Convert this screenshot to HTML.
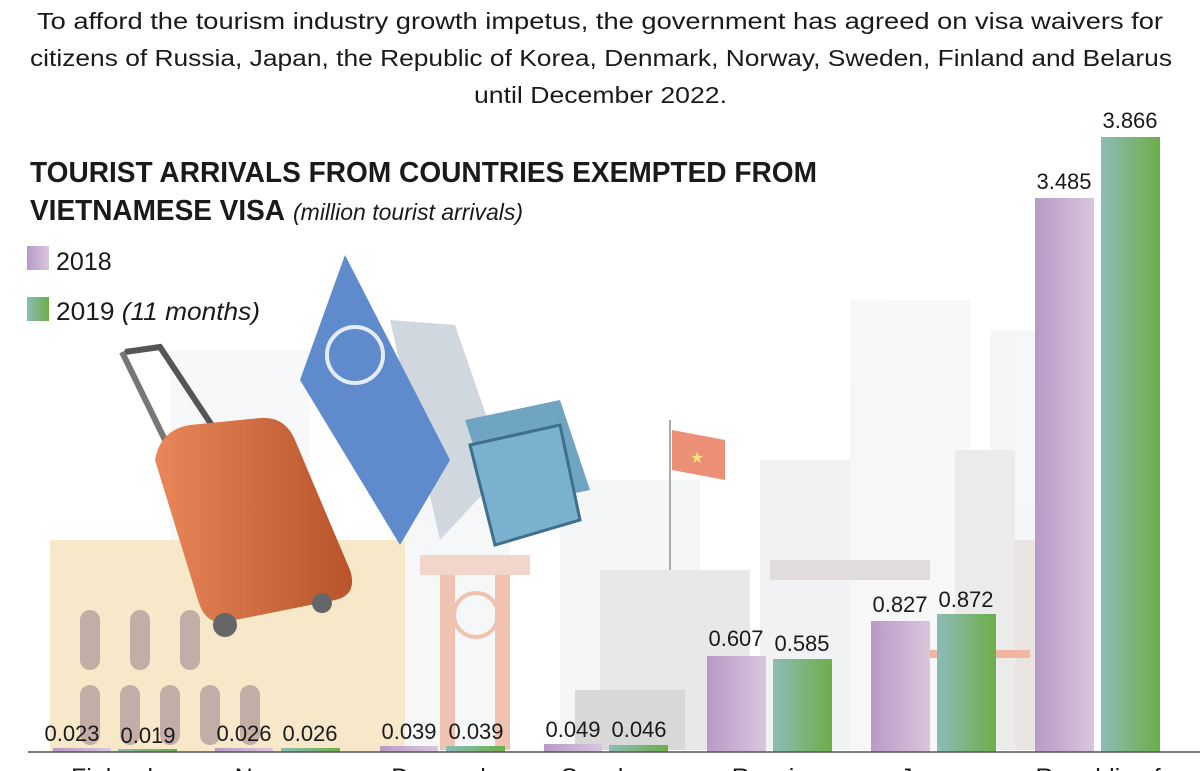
<!DOCTYPE html>
<html><head><meta charset="utf-8">
<style>
html,body{margin:0;padding:0;background:#fff;}
svg{display:block;font-family:"Liberation Sans",sans-serif;}
</style></head><body>
<svg width="1200" height="771" viewBox="0 0 1200 771" xmlns="http://www.w3.org/2000/svg">
<defs>
<linearGradient id="p" x1="0" x2="1"><stop offset="0" stop-color="#b79ac6"/><stop offset="1" stop-color="#dac6de"/></linearGradient>
<linearGradient id="g" x1="0" x2="1"><stop offset="0" stop-color="#8cbcb7"/><stop offset="1" stop-color="#6cae48"/></linearGradient>
<linearGradient id="s" x1="0" x2="1"><stop offset="0" stop-color="#e9875a"/><stop offset="1" stop-color="#b8532a"/></linearGradient>
</defs>
<g opacity="0.55">
<rect x="170" y="350" width="140" height="400" fill="#f1f2f4"/>
<rect x="400" y="420" width="110" height="330" fill="#eef0f3"/>
<rect x="560" y="480" width="140" height="270" fill="#eef0f3"/>
<rect x="760" y="460" width="100" height="290" fill="#e6e8ec"/>
<rect x="850" y="300" width="120" height="450" fill="#f1f2f4"/>
<rect x="990" y="330" width="50" height="420" fill="#eef0f3"/>
<rect x="955" y="450" width="60" height="300" fill="#dcdcdc"/>
<rect x="1015" y="540" width="30" height="210" fill="#d8cfca"/>
</g>
<rect x="50" y="540" width="355" height="212" fill="#f6e8c8"/>
<g fill="#c2aea6"><rect x="80" y="610" width="20" height="60" rx="10"/><rect x="130" y="610" width="20" height="60" rx="10"/><rect x="180" y="610" width="20" height="60" rx="10"/>
<rect x="80" y="685" width="20" height="60" rx="10"/><rect x="120" y="685" width="20" height="60" rx="10"/><rect x="160" y="685" width="20" height="60" rx="10"/><rect x="200" y="685" width="20" height="60" rx="10"/><rect x="240" y="685" width="20" height="60" rx="10"/></g>
<rect x="420" y="555" width="110" height="20" fill="#f2d6cc"/>
<rect x="440" y="575" width="15" height="175" fill="#f0c2b0"/><rect x="495" y="575" width="15" height="175" fill="#f0c2b0"/>
<circle cx="476" cy="615" r="22" fill="none" stroke="#f0c2b0" stroke-width="4"/>
<rect x="600" y="570" width="150" height="180" fill="#e8e8e8"/>
<rect x="575" y="690" width="110" height="60" fill="#d8d8d8"/>
<line x1="670" y1="420" x2="670" y2="570" stroke="#aaa" stroke-width="2"/>
<path d="M672 430 L725 440 L725 480 L672 470Z" fill="#ec8f77"/>
<text x="690" y="463" fill="#f9e27a" font-size="16">★</text>
<rect x="770" y="560" width="160" height="20" fill="#e0dcdc"/>
<rect x="900" y="650" width="130" height="8" fill="#f2b5a0"/>
<!-- passport -->
<path d="M390 320 L455 325 L505 470 L440 540Z" fill="#d0d7df"/>
<path d="M345 255 L450 460 L400 545 L300 380Z" fill="#5f8acb"/>
<circle cx="355" cy="355" r="28" fill="none" stroke="#e3ecf8" stroke-width="4"/>
<path d="M465 420 L560 400 L590 490 L495 510Z" fill="#6fa4c3"/>
<path d="M470 445 L560 425 L580 520 L495 545Z" fill="#79b1cf" stroke="#3f6f8d" stroke-width="3"/>
<!-- suitcase -->
<path d="M125 352 L160 347 L215 430" stroke="#555" stroke-width="6" fill="none"/>
<path d="M122 352 L165 440" stroke="#777" stroke-width="6" fill="none"/>
<path d="M155 460 Q160 430 190 425 L260 418 Q285 416 295 440 L350 570 Q358 595 335 600 L225 622 Q205 625 198 600Z" fill="url(#s)"/>
<circle cx="225" cy="625" r="12" fill="#666"/><circle cx="322" cy="603" r="10" fill="#666"/>
<!-- title -->
<g font-size="23.5" fill="#1a1a1a">
<text x="37" y="29" textLength="1126" lengthAdjust="spacingAndGlyphs">To afford the tourism industry growth impetus, the government has agreed on visa waivers for</text>
<text x="30" y="66" textLength="1142" lengthAdjust="spacingAndGlyphs">citizens of Russia, Japan, the Republic of Korea, Denmark, Norway, Sweden, Finland and Belarus</text>
<text x="474" y="103" textLength="253" lengthAdjust="spacingAndGlyphs">until December 2022.</text>
</g>
<text x="30" y="182" font-size="29" font-weight="bold" fill="#1a1a1a" textLength="787" lengthAdjust="spacingAndGlyphs">TOURIST ARRIVALS FROM COUNTRIES EXEMPTED FROM</text>
<text x="30" y="220" font-size="29" fill="#1a1a1a"><tspan font-weight="bold" textLength="255" lengthAdjust="spacingAndGlyphs">VIETNAMESE VISA</tspan><tspan font-style="italic" font-size="23" dx="8">(million tourist arrivals)</tspan></text>
<rect x="27" y="246" width="22" height="24" fill="url(#p)"/>
<text x="56" y="270" font-size="25" fill="#1a1a1a">2018</text>
<rect x="27" y="297" width="22" height="24" fill="url(#g)"/>
<text x="56" y="320" font-size="25" fill="#1a1a1a" textLength="204" lengthAdjust="spacingAndGlyphs">2019 <tspan font-style="italic">(11 months)</tspan></text>
<g>
<rect x="53" y="748" width="58" height="4" fill="url(#p)"/><rect x="118" y="749" width="59" height="3" fill="url(#g)"/>
<rect x="215" y="748" width="58" height="4" fill="url(#p)"/><rect x="281" y="748" width="59" height="4" fill="url(#g)"/>
<rect x="380" y="746" width="58" height="6" fill="url(#p)"/><rect x="446" y="746" width="59" height="6" fill="url(#g)"/>
<rect x="544" y="744" width="58" height="8" fill="url(#p)"/><rect x="609" y="745" width="59" height="7" fill="url(#g)"/>
<rect x="707" y="656" width="59" height="96" fill="url(#p)"/><rect x="773" y="659" width="59" height="93" fill="url(#g)"/>
<rect x="871" y="621" width="59" height="131" fill="url(#p)"/><rect x="937" y="614" width="59" height="138" fill="url(#g)"/>
<rect x="1035" y="198" width="59" height="554" fill="url(#p)"/><rect x="1101" y="137" width="59" height="615" fill="url(#g)"/>
</g>
<line x1="28" y1="752" x2="1200" y2="752" stroke="#555" stroke-width="1.5"/>
<g font-size="22" fill="#1a1a1a" text-anchor="middle">
<text x="72" y="741">0.023</text><text x="148" y="743">0.019</text>
<text x="244" y="741">0.026</text><text x="310" y="741">0.026</text>
<text x="409" y="739">0.039</text><text x="476" y="739">0.039</text>
<text x="573" y="737">0.049</text><text x="639" y="737">0.046</text>
<text x="736" y="646">0.607</text><text x="802" y="651">0.585</text>
<text x="900" y="612">0.827</text><text x="966" y="607">0.872</text>
<text x="1064" y="189">3.485</text><text x="1130" y="128">3.866</text>
</g>
<g font-size="25" fill="#1a1a1a" text-anchor="middle">
<text x="112" y="786">Finland</text><text x="277" y="786">Norway</text><text x="442" y="786">Denmark</text>
<text x="606" y="786">Sweden</text><text x="770" y="786">Russia</text><text x="934" y="786">Japan</text><text x="1098" y="786">Republic of</text>
</g>
</svg>
</body></html>
